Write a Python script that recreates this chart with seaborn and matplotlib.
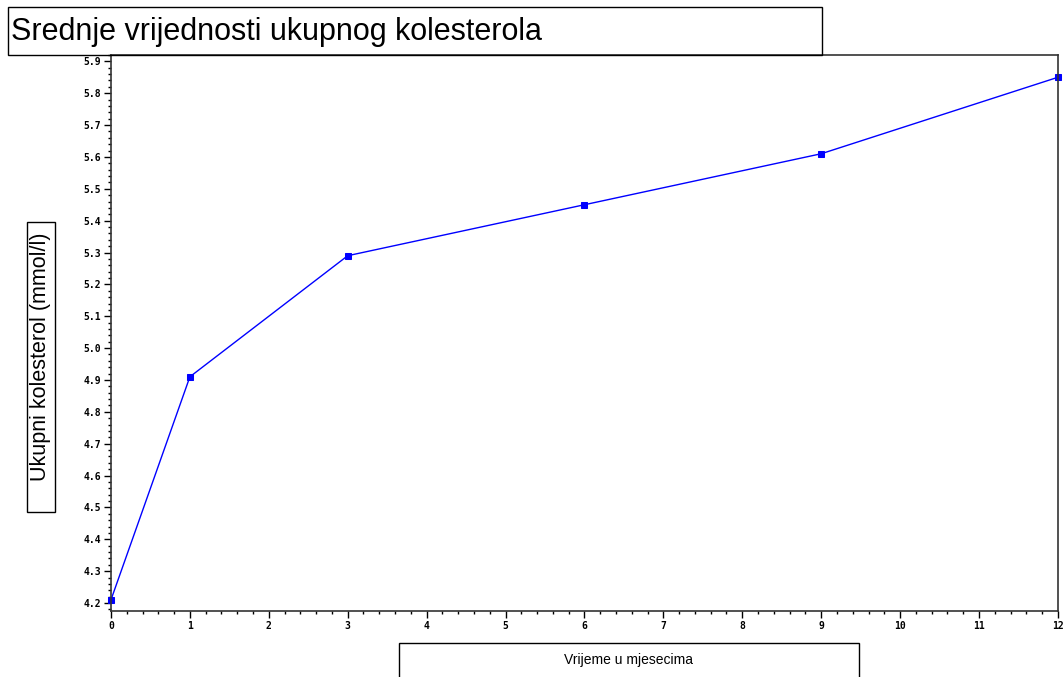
import matplotlib
matplotlib.use("Agg")
import matplotlib.pyplot as plt
from matplotlib.patches import Rectangle
from matplotlib.ticker import MultipleLocator, AutoMinorLocator
import seaborn as sns
import pandas as pd

# mean total cholesterol over time
months = [0, 1, 3, 6, 9, 12]
cholesterol = [4.21, 4.91, 5.29, 5.45, 5.61, 5.85]

df = pd.DataFrame({"month": months, "chol": cholesterol})

sns.set_style("white")
plt.rcParams['font.family'] = ['Liberation Sans', 'DejaVu Sans']
plt.rcParams['text.color'] = 'black'

fig = plt.figure(figsize=(10.64, 6.77), dpi=100)
ax = fig.add_axes([0.1043, 0.0975, 0.890, 0.8213])

sns.lineplot(x="month", y="chol", data=df, ax=ax, color=(0, 0, 1), lw=1,
             marker="s", markersize=5, markeredgecolor=(0, 0, 1), clip_on=False)

ax.set_xlim(0, 12)
ax.set_ylim(4.175, 5.92)
ax.xaxis.set_major_locator(MultipleLocator(1))
ax.xaxis.set_minor_locator(AutoMinorLocator(5))
ax.set_yticks([round(4.2 + 0.1 * i, 1) for i in range(18)])
ax.yaxis.set_minor_locator(AutoMinorLocator(5))
ax.tick_params(which="major", direction="out", length=5, width=1, color="black",
               labelsize=7, labelcolor="black", pad=2, left=True, bottom=True)
ax.tick_params(which="minor", direction="out", length=2.5, width=1, color="black",
               left=True, bottom=True)
for lab in ax.get_xticklabels() + ax.get_yticklabels():
    lab.set_family("DejaVu Sans Mono")
    lab.set_fontweight("bold")
for s in ax.spines.values():
    s.set_color("#333333")
    s.set_linewidth(1.2)
ax.set_xlabel("")
ax.set_ylabel("")

# boxed titles like the original
fig.patches.append(Rectangle((0.0075, 0.9188), 0.765, 0.0709, transform=fig.transFigure,
                             fill=False, edgecolor="black", lw=1))
fig.text(0.0105, 0.953, "Srednje vrijednosti ukupnog kolesterola", fontsize=22,
         ha="left", va="center", color="black")
fig.patches.append(Rectangle((0.0254, 0.2437), 0.0263, 0.4284, transform=fig.transFigure,
                             fill=False, edgecolor="black", lw=1))
fig.text(0.0385, 0.4727, "Ukupni kolesterol (mmol/l)", fontsize=15.5, rotation=90,
         ha="center", va="center", color="black")
fig.patches.append(Rectangle((0.375, -0.01), 0.4323, 0.06, transform=fig.transFigure,
                             fill=False, edgecolor="black", lw=1))
fig.text(0.591, 0.0255, "Vrijeme u mjesecima", fontsize=10, ha="center", va="center",
         color="black")

fig.savefig("out.png", dpi=100)
